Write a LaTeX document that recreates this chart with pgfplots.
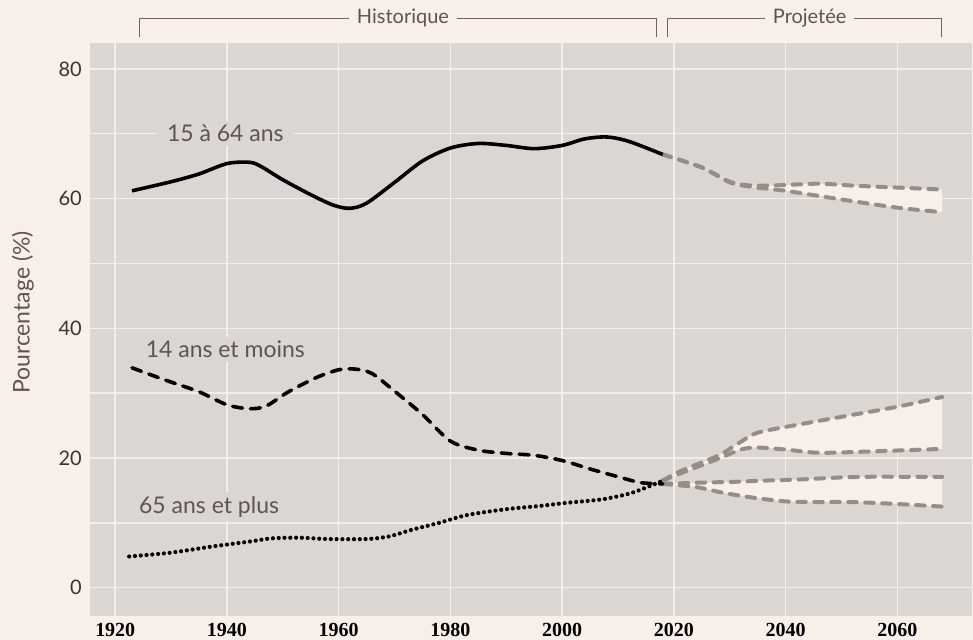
\documentclass[border=0pt]{standalone}
\usepackage{pgfplots}
\pgfplotsset{compat=1.18}
\usepackage{pgfplotstable}
\usepgfplotslibrary{fillbetween}
\usepackage{fontspec}
\setmainfont{Lato}
\newfontfamily\serifbold{Liberation Serif}[BoldFont={Liberation Serif Bold}]
\definecolor{bgcol}{HTML}{F6EFEA}
\definecolor{plotgray}{HTML}{DAD6D3}
\definecolor{gridcol}{HTML}{F3EEEA}
\definecolor{projcol}{HTML}{968D89}
\definecolor{labelcol}{HTML}{5E5553}
\definecolor{brackcol}{HTML}{6E6461}
\definecolor{tickcol}{HTML}{3A3331}

\pgfplotstableread{
x y
1923 61.2
1930 62.6
1935 63.8
1940 65.4
1944 65.6
1946 65.0
1950 62.9
1955 60.6
1959 59.0
1962 58.5
1965 59.3
1970 62.5
1975 65.8
1980 67.8
1985 68.5
1990 68.2
1995 67.7
2000 68.2
2004 69.2
2008 69.5
2012 68.8
2018 66.8
}\workhist
\pgfplotstableread{
x y
2018 66.8
2025 64.8
2030 62.6
2034 62.0
2040 62.1
2046 62.3
2052 62.0
2060 61.7
2068 61.4
}\workhi
\pgfplotstableread{
x y
2018 66.8
2025 64.8
2030 62.5
2034 61.8
2040 61.2
2046 60.4
2052 59.6
2060 58.6
2068 57.9
}\worklo
\pgfplotstableread{
x y
1923 33.9
1929 32.0
1935 30.2
1940 28.2
1944 27.6
1947 28.0
1951 30.2
1956 32.4
1960 33.6
1963 33.7
1966 33.0
1970 30.3
1975 26.7
1980 22.6
1985 21.2
1990 20.7
1995 20.4
2000 19.6
2005 18.3
2010 17.1
2014 16.2
2018 16.0
}\younghist
\pgfplotstableread{
x y
2018 16.0
2025 16.2
2030 16.3
2036 16.5
2043 16.7
2050 17.0
2055 17.1
2060 17.1
2068 17.1
}\younghi
\pgfplotstableread{
x y
2018 16.0
2024 15.5
2029 14.6
2034 13.9
2040 13.3
2046 13.2
2052 13.2
2060 12.9
2068 12.5
}\younglo
\pgfplotstableread{
x y
1922.5 4.8
1930 5.4
1937 6.3
1944 7.1
1948 7.6
1953 7.7
1958 7.5
1965 7.5
1969 7.9
1973 8.9
1978 10.0
1983 11.2
1990 12.1
1996 12.6
2001 13.1
2007 13.6
2012 14.5
2015.5 15.6
2018 16.5
}\oldhist
\pgfplotstableread{
x y
2018 16.5
2021 17.9
2028 20.4
2032 22.5
2035 23.9
2042 25.1
2051 26.5
2060 27.9
2068 29.4
}\oldhi
\pgfplotstableread{
x y
2018 16.5
2022 17.9
2028 19.9
2032 21.3
2035 21.6
2040 21.3
2046 20.8
2055 21.0
2068 21.4
}\oldlo

\pagecolor{bgcol}
\begin{document}
\begin{tikzpicture}
\begin{axis}[
  at={(0,0)}, anchor=south west,
  scale only axis,
  width=883bp, height=573bp,
  xmin=1915.47, xmax=2073.4,
  ymin=-4.3, ymax=84.0,
  axis background/.style={fill=plotgray},
  axis line style={draw=none},
  xtick={1920,1940,...,2060},
  ytick={0,10,...,80},
  yticklabels={0,,20,,40,,60,,80},
  xmajorgrids, ymajorgrids,
  major grid style={gridcol, line width=1.5bp},
  major tick length=0pt, minor tick length=0pt,
  xticklabel style={font=\serifbold\bfseries\fontsize{20bp}{24bp}\selectfont, text=black, anchor=north, inner sep=0pt, yshift=-7bp},
  yticklabel style={font=\fontsize{20bp}{24bp}\selectfont, text=tickcol, anchor=east, inner sep=0pt, xshift=-8bp},
  /pgf/number format/assume math mode=true,
  /pgf/number format/1000 sep={},
  ylabel={Pourcentage (\%)},
  every axis y label/.style={at={(axis description cs:-0.076,0.529)}, rotate=90, anchor=center, font=\fontsize{23bp}{26bp}\selectfont, text=labelcol},
  clip=false,
]
% invisible paths for fills
\addplot[draw=none, name path=WH, forget plot, smooth, tension=0.5] table {\workhi};
\addplot[draw=none, name path=WL, forget plot, smooth, tension=0.5] table {\worklo};
\addplot[draw=none, name path=YH, forget plot, smooth, tension=0.5] table {\younghi};
\addplot[draw=none, name path=YL, forget plot, smooth, tension=0.5] table {\younglo};
\addplot[draw=none, name path=OH, forget plot, smooth, tension=0.5] table {\oldhi};
\addplot[draw=none, name path=OL, forget plot, smooth, tension=0.5] table {\oldlo};
\addplot[fill=bgcol, draw=none, forget plot] fill between[of=WH and WL];
\addplot[fill=bgcol, draw=none, forget plot] fill between[of=YH and YL];
\addplot[fill=bgcol, draw=none, forget plot] fill between[of=OH and OL];
% projections
\addplot[projcol, line width=4bp, line cap=round, dash pattern=on 8.5bp off 8.5bp, smooth, tension=0.5] table {\workhi};
\addplot[projcol, line width=4bp, line cap=round, dash pattern=on 8.5bp off 8.5bp, smooth, tension=0.5] table {\worklo};
\addplot[projcol, line width=4bp, line cap=round, dash pattern=on 8.5bp off 8.5bp, smooth, tension=0.5] table {\younghi};
\addplot[projcol, line width=4bp, line cap=round, dash pattern=on 8.5bp off 8.5bp, smooth, tension=0.5] table {\younglo};
\addplot[projcol, line width=4bp, line cap=round, dash pattern=on 8.5bp off 8.5bp, smooth, tension=0.5] table {\oldhi};
\addplot[projcol, line width=4bp, line cap=round, dash pattern=on 8.5bp off 8.5bp, smooth, tension=0.5] table {\oldlo};
% historical
\addplot[black, line width=3.6bp, smooth, tension=0.5] table {\workhist};
\addplot[black, line width=3.6bp, line cap=round, dash pattern=on 10bp off 8bp, smooth, tension=0.5] table {\younghist};
\addplot[black, line width=4.2bp, line cap=round, dash pattern=on 0bp off 5.8bp, smooth, tension=0.5] table {\oldhist};
% labels
\node[fill=plotgray, inner xsep=10bp, inner ysep=4bp, text=labelcol, font=\fontsize{23bp}{26bp}\selectfont] at (axis cs:1939.7,70.0) {15 à 64 ans};
\node[fill=plotgray, inner xsep=10bp, inner ysep=4bp, text=labelcol, font=\fontsize{23bp}{26bp}\selectfont] at (axis cs:1939.7,36.7) {14 ans et moins};
\node[fill=plotgray, inner xsep=10bp, inner ysep=4bp, text=labelcol, font=\fontsize{23bp}{26bp}\selectfont] at (axis cs:1936.8,12.5) {65 ans et plus};
% brackets
\draw[brackcol, line width=1.3bp] (axis cs:1924.4,84.9) -- (axis cs:1924.4,87.8) -- (axis cs:2016.9,87.8) -- (axis cs:2016.9,84.9);
\node[fill=bgcol, inner xsep=8bp, inner ysep=2bp, text=labelcol, font=\fontsize{20bp}{23bp}\selectfont] at (axis cs:1971.5,87.8) {Historique};
\draw[brackcol, line width=1.3bp] (axis cs:2018.9,84.9) -- (axis cs:2018.9,87.8) -- (axis cs:2067.9,87.8) -- (axis cs:2067.9,84.9);
\node[fill=bgcol, inner xsep=8bp, inner ysep=2bp, text=labelcol, font=\fontsize{20bp}{23bp}\selectfont] at (axis cs:2044.3,87.8) {Projetée};
\end{axis}
\path (-90bp,-24bp) rectangle (883bp,616bp);
\end{tikzpicture}
\end{document}
